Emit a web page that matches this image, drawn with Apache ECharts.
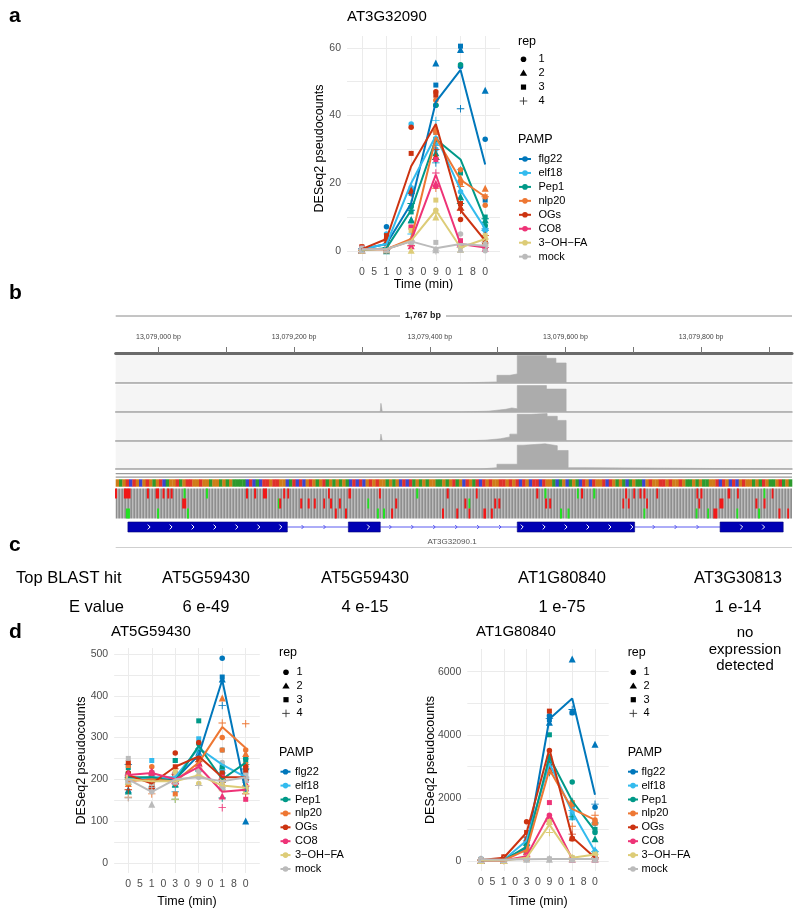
<!DOCTYPE html>
<html><head><meta charset="utf-8">
<script src="https://cdn.jsdelivr.net/npm/echarts@6/dist/echarts.min.js"></script>
<style>html,body{margin:0;padding:0;background:#fff}#c{width:800px;height:913px}</style>
</head><body><div id="c"></div><script>
const FONT = 'Liberation Sans, Arial, Helvetica, sans-serif';

// ---------- shared categories ----------
const pamps = ['flg22','elf18','Pep1','nlp20','OGs','CO8','3−OH−FA','mock'];
const pampColors = ['#0077BB','#33BBEE','#009988','#EE7733','#CC3311','#EE3377','#DDCC77','#BBBBBB'];
const repLabels = ['1','2','3','4'];
const times = ['0','5','10','30','90','180'];
const timeTickChars = ['0','5','1','0','3','0','9','0','1','8','0'];

// ---------- panel a : AT3G32090 ----------
const aYTicks = [0,20,40,60];
const aYGrid = [0,10,20,30,40,50,60];
const aMean = [
  [0.5,2,14,44,53.5,25.5],
  [0.5,2,20,34,18,6.5],
  [0.2,0.8,12,33,27,9],
  [0.5,0.5,3.5,33.5,21,16],
  [0.5,3.5,25,37.5,12,3],
  [0.5,0.5,3,22.5,2,1],
  [0.3,0.5,3,12,1,3.5],
  [0.5,0.5,2.8,0.8,2,1.5]
];
const a_flg22 = [[0.5,0.2,1.0,0.3],[7.1,1.0,1.5,0.8],[17.5,9.2,17,12],[43,55.5,49,26],[54.5,59.5,60.5,42],[33,47.5,15,6.5]];
const a_elf18 = [[0.8,0.5,0.3,0.6],[5,1,1.5,0.5],[37.5,19,18.5,5],[30,32,35,38.5],[17.5,16,14,24],[6,7,6.5,6]];
const a_pep1  = [[0.2,0.1,0,0.5],[0.5,0,1.5,1],[13,9.2,11.5,14],[43,29,33,27],[55,16,23,14],[7.5,9.2,10,9.5]];
const a_nlp20 = [[1.2,0.5,0.3,0.2],[0.2,0.5,0.8,0.5],[2.5,3.5,7,1.5],[44.5,36,35,18.5],[24,21.5,20,19],[13.5,18.5,16,16]];
const a_ogs   = [[0.5,0.3,1.2,0.2],[3.5,3,4.5,3],[36.5,18,28.8,17],[47,28,46,30],[9.3,13,14,12],[2.5,3,1.5,4.5]];
const a_co8   = [[0.5,0.2,0.8,0.5],[0.5,0.3,0.8,0.4],[3,1.5,7,1.5],[19,20,27,23],[1.5,2,3,1.5],[1,0.8,1.2,1]];
const a_ohfa  = [[0.3,0.2,0.5,0.2],[0.5,0.3,0.8,0.4],[3,0.2,6,2.8],[12,10,15,11],[1,0.5,1.5,1],[3.5,2.5,4.5,3.5]];
const a_mock  = [[0.5,0.3,0.8,0.4],[0.4,0.5,0.7,0.4],[2.8,3,2.5,3],[0.5,0.3,2.5,0],[5,0.5,1.5,1],[0,2,1.5,2.5]];

// ---------- panel d left : AT5G59430 ----------
const dlYTicks = [0,100,200,300,400,500];
const dlYGrid = [0,50,100,150,200,250,300,350,400,450,500];
const dlMean = [
  [205,200,200,258,438,170],
  [200,205,205,275,235,205],
  [205,205,195,280,200,240],
  [195,200,195,240,325,275],
  [210,190,230,255,205,205],
  [210,215,200,230,170,175],
  [200,195,195,210,185,180],
  [200,170,200,205,195,205]
];
const dl_flg22 = [[210,175,200,235],[195,210,200,195],[200,195,210,195],[250,265,270,248],[490,440,445,377],[180,100,175,225]];
const dl_elf18 = [[200,195,205,200],[210,190,245,175],[215,190,245,170],[270,260,297,273],[270,230,225,215],[205,200,215,200]];
const dl_pep1  = [[215,172,228,205],[205,200,215,200],[195,188,245,152],[285,275,340,220],[215,200,230,155],[250,230,245,235]];
const dl_nlp20 = [[200,190,233,157],[230,220,185,165],[190,200,165,225],[245,240,250,225],[300,395,270,335],[270,262,235,333]];
const dl_ogs   = [[215,210,240,175],[190,185,180,205],[263,215,230,212],[288,240,250,242],[205,200,215,200],[230,205,220,165]];
const dl_co8   = [[210,215,205,210],[215,220,215,210],[215,195,200,190],[235,230,225,230],[185,160,205,132],[185,180,152,183]];
const dl_ohfa  = [[200,195,205,200],[195,200,190,195],[200,210,218,152],[190,215,225,210],[185,180,195,180],[180,185,170,185]];
const dl_mock  = [[195,200,250,155],[170,140,190,180],[205,195,200,200],[205,210,220,185],[240,185,180,175],[205,200,210,205]];

// ---------- panel d right : AT1G80840 ----------
const drYTicks = [0,2000,4000,6000];
const drYGrid = [0,1000,2000,3000,4000,5000,6000];
const drMean = [
  [30,40,400,4500,5150,2100],
  [20,30,650,3100,1550,300],
  [20,20,450,3300,1900,950],
  [20,20,350,2900,1650,1300],
  [30,100,900,3550,750,100],
  [20,10,150,1500,60,60],
  [20,10,100,1150,100,200],
  [50,40,50,60,60,60]
];
const dr_flg22 = [[60,20,20,20],[50,30,40,40],[500,300,450,350],[4600,4400,4480,4520],[4700,6400,4700,4800],[1700,3700,1200,1800]];
const dr_elf18 = [[20,25,15,20],[30,35,25,30],[700,600,650,650],[3100,3000,3200,3100],[1700,1400,1500,1600],[300,350,250,300]];
const dr_pep1  = [[20,15,25,20],[20,25,15,20],[500,350,450,500],[3300,3100,4000,2800],[2500,1900,1800,1400],[900,700,1000,1200]];
const dr_nlp20 = [[20,25,15,20],[20,15,25,20],[400,300,350,350],[2950,2850,2900,2900],[1800,1850,1850,1100],[1300,1250,1200,1450]];
const dr_ogs   = [[30,35,25,30],[100,80,130,90],[1240,700,900,760],[3500,2900,4750,3050],[700,750,700,850],[100,90,110,100]];
const dr_co8   = [[20,25,15,20],[10,15,5,10],[150,120,180,150],[1450,1350,1850,1350],[60,50,70,60],[60,50,70,60]];
const dr_ohfa  = [[20,15,25,20],[10,15,5,10],[100,90,110,100],[1200,1250,1250,900],[100,90,110,100],[200,180,220,200]];
const dr_mock  = [[50,45,55,50],[40,45,35,40],[50,55,45,50],[60,55,65,60],[60,55,65,60],[60,55,65,60]];

// ---------- panel b : genome browser (positions = bp offset from 13,079,000) ----------
const chromAnchor = 13079000;
const bpView = [-63, 934];
const rulerLabelBp = [0,200,400,600,800];
const rulerTickBp = [0,100,200,300,400,500,600,700,800,900];
const spanLabel = '1,767 bp';
const cov1 = [[-63,0],[448,4],[499,28],[518,33],[529,100],[572,90],[586,73],[601,0],[934,0]];
const cov2 = [[-63,0],[327,0],[328,32],[330,0],[445,3],[486,10],[512,15],[521,12],[529,98],[572,85],[601,0],[934,0]];
const cov3 = [[-63,0],[327,0],[328,25],[330,0],[446,3],[481,8],[504,15],[518,25],[529,97],[549,100],[573,90],[588,75],[601,0],[934,0]];
const cov4 = [[-63,0],[476,5],[499,18],[529,90],[538,95],[570,88],[588,70],[604,5],[629,0],[934,0]];
const seqBases = 'GAGTCTGCGTGAGTCAGGTAGTTGGTGGAGGAGAGAAAACTCACTTGTTGGCATCTCGTGAGTAGAGAGACTCTCGTGTGGAGAGCTCTAGAGAGGAAGAGTAGCTGATCTGTGGTTGTGTCTGCTTCTGGACAGCAGACTGCTGGTCTGAGACAGAACGTGGTTGTGGTGAAGAGAAGGTCTGCTCGTGGAGATGAAGTAGA';
// mismatch marks: [startBp, endBp, 0=red / 1=green]
const mism1 = [[-64,-61,0],[-51,-41,0],[-17,-14,0],[-4,1,0],[6,9,0],[13,16,0],[18,21,0],[37,40,1],[70,73,1],[129,132,0],[141,144,0],[154,160,0],[184,187,0],[190,192,0],[250,252,0],[280,284,0],[325,328,0],[380,383,1],[425,428,0],[468,470,0],[557,560,0],[569,572,1],[617,619,1],[623,626,0],[641,644,1],[688,691,0],[700,702,0],[709,712,0],[715,718,0],[734,736,0],[793,795,0],[799,802,0],[839,843,0],[853,855,0],[892,894,1],[904,906,0]];
const mism2 = [[35,41,0],[176,178,1],[178,181,0],[209,212,0],[220,223,0],[229,232,0],[243,245,0],[253,256,0],[266,269,0],[308,310,1],[349,352,0],[451,454,0],[457,459,1],[495,498,0],[501,504,0],[570,573,0],[576,579,0],[684,686,0],[692,694,0],[719,721,0],[796,798,0],[827,833,0],[880,883,0],[892,895,0]];
const mism3 = [[-48,-42,1],[-2,1,1],[42,45,1],[260,263,0],[275,278,0],[322,325,1],[331,334,1],[343,346,0],[418,421,0],[439,442,0],[457,459,0],[479,483,0],[490,493,0],[592,595,1],[603,606,1],[715,717,1],[792,794,1],[809,811,1],[818,824,0],[852,854,1],[884,887,1],[914,917,0],[927,929,0]];
const exons = [[-45,190],[280,327],[529,702],[828,921]];
const geneName = 'AT3G32090.1';

// ---------- panel c ----------
const blastHits = ['AT5G59430','AT5G59430','AT1G80840','AT3G30813'];
const eValues = ['6 e-49','4 e-15','1 e-75','1 e-14'];

// ===================================================================
const grids = [], xAxes = [], yAxes = [], series = [], g = [];
const shapes = ['circle','triangle','rect','path://M4.4,0H5.6V4.4H10V5.6H5.6V10H4.4V5.6H0V4.4H4.4Z'];
const shapeSizes = [5.5, 7, 5, 7.5];

function addPlot(box, yMin, yMax, yTicks, yGrid, yGap, xGap, means, repSets) {
  const idx = grids.length;
  grids.push({left: box[0], top: box[1], width: box[2], height: box[3]});
  xAxes.push({gridIndex: idx, type: 'value', min: -0.6, max: 5.6,
    axisLine: {show: false}, axisTick: {show: false, customValues: times.map((t, i) => i)},
    splitLine: {show: true, lineStyle: {color: '#ebebeb', width: 1}},
    axisLabel: {customValues: timeTickChars.map((c, i) => i / 2), formatter: v => timeTickChars[Math.round(v * 2)],
      color: '#4d4d4d', fontSize: 10.5, margin: 6, fontFamily: FONT},
    name: 'Time (min)', nameLocation: 'middle', nameGap: xGap, nameMoveOverlap: false,
    nameTextStyle: {color: '#000', fontSize: 12.5, fontFamily: FONT}});
  yAxes.push({gridIndex: idx, type: 'value', min: yMin, max: yMax,
    axisLine: {show: false}, axisTick: {show: false, customValues: yGrid},
    splitLine: {show: true, lineStyle: {color: '#ebebeb', width: 1}},
    axisLabel: {customValues: yTicks, formatter: v => String(v), color: '#4d4d4d', fontSize: 10.5, margin: 6, fontFamily: FONT},
    name: 'DESeq2 pseudocounts', nameLocation: 'middle', nameGap: yGap, nameRotate: 90, nameMoveOverlap: false,
    nameTextStyle: {color: '#000', fontSize: 12.5, fontFamily: FONT}});
  pamps.forEach((p, k) => {
    const data = [];
    repSets[k].forEach((vals, t) => vals.forEach((v, r) => data.push([t, v, r])));
    series.push({type: 'scatter', xAxisIndex: idx, yAxisIndex: idx, data: data,
      symbol: val => shapes[val[2]], symbolSize: val => shapeSizes[val[2]],
      itemStyle: {color: pampColors[k], opacity: 1}, z: 2, silent: true});
  });
  pamps.forEach((p, k) => {
    series.push({type: 'line', xAxisIndex: idx, yAxisIndex: idx, data: means[k].map((v, t) => [t, v]),
      showSymbol: false, symbol: 'none', lineStyle: {color: pampColors[k], width: 2}, z: 3, silent: true});
  });
}

addPlot([347, 36, 153, 225], -3, 63.5, aYTicks, aYGrid, 21, 17.5, aMean,
  [a_flg22, a_elf18, a_pep1, a_nlp20, a_ogs, a_co8, a_ohfa, a_mock]);
addPlot([114.2, 648, 145.6, 225], -24.5, 514.5, dlYTicks, dlYGrid, 26, 22.5, dlMean,
  [dl_flg22, dl_elf18, dl_pep1, dl_nlp20, dl_ogs, dl_co8, dl_ohfa, dl_mock]);
addPlot([467.3, 649, 141.4, 222], -320, 6720, drYTicks, drYGrid, 30, 24.5, drMean,
  [dr_flg22, dr_elf18, dr_pep1, dr_nlp20, dr_ogs, dr_co8, dr_ohfa, dr_mock]);

// ---------- panel b grids ----------
const bLeft = 115.7, bWidth = 676.3;
function bGrid(top, height, xExtra, yExtra, gridExtra) {
  const idx = grids.length;
  grids.push(Object.assign({left: bLeft, width: bWidth, top: top, height: height}, gridExtra || {}));
  xAxes.push(Object.assign({gridIndex: idx, type: 'value', min: bpView[0], max: bpView[1],
    axisLine: {show: false}, axisTick: {show: false}, axisLabel: {show: false}, splitLine: {show: false}}, xExtra || {}));
  yAxes.push(Object.assign({gridIndex: idx, type: 'value', min: 0, max: 100, show: false, splitLine: {show: false}}, yExtra || {}));
  return idx;
}
const rulerIdx = bGrid(345, 8, {position: 'top',
  axisLine: {show: true, lineStyle: {color: '#8a8a8a', width: 1}},
  axisTick: {show: true, inside: false, length: 6, customValues: rulerTickBp, lineStyle: {color: '#777'}},
  axisLabel: {show: true, customValues: rulerLabelBp, margin: 4, fontSize: 7, color: '#444', fontFamily: FONT,
    formatter: v => (chromAnchor + v).toLocaleString('en-US') + ' bp'}});
xAxes.push({gridIndex: rulerIdx, type: 'value', min: bpView[0], max: bpView[1], position: 'bottom',
  axisLine: {show: true, lineStyle: {color: '#6a6a6a', width: 3}}, axisTick: {show: false}, axisLabel: {show: false}, splitLine: {show: false}});

function axisIdxOf(gridIdx) { return xAxes.findIndex(a => a.gridIndex === gridIdx); }
const covTracks = [cov1, cov2, cov3, cov4];
const trackBoxes = [[355, 28], [384.5, 27.5], [413, 28], [442, 27]];
covTracks.forEach((cov, i) => {
  const idx = bGrid(trackBoxes[i][0], trackBoxes[i][1],
    {axisLine: {show: true, lineStyle: {color: '#a8a8a8', width: 1.5}}},
    {max: 102},
    {show: true, backgroundColor: '#f5f5f5', borderWidth: 0});
  series.push({type: 'line', xAxisIndex: axisIdxOf(idx), yAxisIndex: idx, data: cov, step: 'end',
    showSymbol: false, symbol: 'none', lineStyle: {width: 0.6, color: '#a9a9a9'},
    areaStyle: {color: '#acacac', opacity: 1}, silent: true});
});

const baseColors = {A: '#2c9a2c', C: '#3a45d0', G: '#cf7c18', T: '#e0302a'};
const seqIdx = bGrid(479.3, 7.4, {}, {min: 0, max: 1});
const seqStep = (bpView[1] - bpView[0]) / seqBases.length;
series.push({type: 'custom', xAxisIndex: axisIdxOf(seqIdx), yAxisIndex: seqIdx, silent: true,
  data: seqBases.split('').map((b, i) => [bpView[0] + i * seqStep, bpView[0] + (i + 1) * seqStep, 'ACGT'.indexOf(b)]),
  renderItem: (params, api) => {
    const p0 = api.coord([api.value(0), 1]), p1 = api.coord([api.value(1), 0]);
    return {type: 'rect', shape: {x: p0[0], y: p0[1], width: p1[0] - p0[0] + 0.3, height: p1[1] - p0[1]},
      style: {fill: baseColors['ACGT'[api.value(2)]]}};
  }});

const varIdx = bGrid(488.5, 30, {}, {min: 0, max: 3, inverse: true});
const mismData = [];
[mism1, mism2, mism3].forEach((row, r) => row.forEach(m => mismData.push([m[0], m[1], r, m[2]])));
series.push({type: 'custom', xAxisIndex: axisIdxOf(varIdx), yAxisIndex: varIdx, silent: true, z: 5,
  data: mismData,
  renderItem: (params, api) => {
    const p0 = api.coord([api.value(0), api.value(2)]), p1 = api.coord([api.value(1), api.value(2) + 1]);
    return {type: 'rect', shape: {x: p0[0], y: p0[1], width: Math.max(p1[0] - p0[0], 1.8), height: p1[1] - p0[1]},
      style: {fill: api.value(3) === 1 ? '#22e022' : '#f01818'}};
  }});

const geneIdx = bGrid(522, 10, {}, {min: 0, max: 1});
const arrowPhase = -14, arrowStep = 32.35;
const introns = exons.slice(1).map((e, i) => [exons[i][1], e[0]]);
series.push({type: 'custom', xAxisIndex: axisIdxOf(geneIdx), yAxisIndex: geneIdx, silent: true,
  data: introns,
  renderItem: (params, api) => {
    const s = api.value(0), e = api.value(1);
    const a = api.coord([s, 0.5]), b = api.coord([e, 0.5]);
    const ch = [{type: 'line', shape: {x1: a[0], y1: a[1], x2: b[0], y2: b[1]}, style: {stroke: '#5a5af0', lineWidth: 1}}];
    for (let p = arrowPhase + Math.ceil((s - arrowPhase) / arrowStep) * arrowStep; p < e - 4; p += arrowStep) {
      const c = api.coord([p, 0.5]);
      ch.push({type: 'polyline', shape: {points: [[c[0] - 1, c[1] - 2], [c[0] + 1, c[1]], [c[0] - 1, c[1] + 2]]},
        style: {stroke: '#4646ee', lineWidth: 0.9, fill: null}});
    }
    return {type: 'group', children: ch};
  }});
series.push({type: 'custom', xAxisIndex: axisIdxOf(geneIdx), yAxisIndex: geneIdx, silent: true, z: 4,
  data: exons,
  renderItem: (params, api) => {
    const s = api.value(0), e = api.value(1);
    const p0 = api.coord([s, 1]), p1 = api.coord([e, 0]);
    const ch = [{type: 'rect', shape: {x: p0[0], y: p0[1], width: p1[0] - p0[0], height: p1[1] - p0[1]},
      style: {fill: '#0000b4', stroke: '#00007a', lineWidth: 0.6}}];
    for (let p = arrowPhase + Math.ceil((s - arrowPhase) / arrowStep) * arrowStep; p < e - 4; p += arrowStep) {
      const c = api.coord([p, 0.5]);
      ch.push({type: 'polyline', shape: {points: [[c[0] - 1.2, c[1] - 2.4], [c[0] + 1.2, c[1]], [c[0] - 1.2, c[1] + 2.4]]},
        style: {stroke: '#ffffff', lineWidth: 1, fill: null}});
    }
    return {type: 'group', children: ch};
  }});

function txt(s, x, y, size, opts) {
  opts = opts || {};
  const align = opts.align || 'left';
  return {type: 'text', x: x, y: y, silent: true, z: 10, style: {text: s, fill: opts.color || '#000',
    font: (opts.weight || 'normal') + ' ' + size + 'px ' + (opts.family || FONT),
    align: align, verticalAlign: 'middle', textAlign: align, textVerticalAlign: 'middle'}};
}
g.push(txt('a', 9, 16, 21, {weight: 'bold'}));
g.push(txt('b', 9, 293, 21, {weight: 'bold'}));
g.push(txt('c', 9, 545, 21, {weight: 'bold'}));
g.push(txt('d', 9, 632, 21, {weight: 'bold'}));
g.push(txt('AT3G32090', 347, 17, 15));
g.push(txt('AT5G59430', 111, 632, 15));
g.push(txt('AT1G80840', 476, 632, 15));

function repSymbol(r, x, y) {
  if (r === 0) return {type: 'circle', shape: {cx: x, cy: y, r: 2.8}, style: {fill: '#000'}};
  if (r === 1) return {type: 'polygon', shape: {points: [[x, y - 3.6], [x + 3.7, y + 2.6], [x - 3.7, y + 2.6]]}, style: {fill: '#000'}};
  if (r === 2) return {type: 'rect', shape: {x: x - 2.6, y: y - 2.6, width: 5.2, height: 5.2}, style: {fill: '#000'}};
  return {type: 'group', children: [
    {type: 'line', shape: {x1: x - 3.8, y1: y, x2: x + 3.8, y2: y}, style: {stroke: '#333', lineWidth: 0.9}},
    {type: 'line', shape: {x1: x, y1: y - 3.8, x2: x, y2: y + 3.8}, style: {stroke: '#333', lineWidth: 0.9}}]};
}
function legend(L) {
  g.push(txt('rep', L.tx, L.repTitleY, 12.5));
  repLabels.forEach((r, i) => {
    const y = L.repY0 + i * L.repStep;
    const s = repSymbol(i, L.repSymX, y); s.silent = true; g.push(s);
    g.push(txt(r, L.repLabX, y, 11));
  });
  g.push(txt('PAMP', L.tx, L.pampTitleY, 12.5));
  pamps.forEach((p, k) => {
    const y = L.pampY0 + k * L.pampStep;
    g.push({type: 'line', silent: true, shape: {x1: L.pampSymX - L.half, y1: y, x2: L.pampSymX + L.half, y2: y}, style: {stroke: pampColors[k], lineWidth: 2}});
    g.push({type: 'circle', silent: true, shape: {cx: L.pampSymX, cy: y, r: 2.8}, style: {fill: pampColors[k]}});
    g.push(txt(p, L.pampLabX, y, 11));
  });
}
legend({tx: 518, repTitleY: 42, repSymX: 523.5, repLabX: 538.5, repY0: 59.3, repStep: 13.9,
  pampTitleY: 140, pampSymX: 525, half: 6, pampLabX: 538.5, pampY0: 159, pampStep: 13.95});
legend({tx: 279, repTitleY: 653, repSymX: 286, repLabX: 296.5, repY0: 672.3, repStep: 13.7,
  pampTitleY: 753, pampSymX: 285.5, half: 5, pampLabX: 295, pampY0: 771.7, pampStep: 13.9});
legend({tx: 627.7, repTitleY: 653, repSymX: 633.3, repLabX: 643.5, repY0: 672.3, repStep: 13.7,
  pampTitleY: 753, pampSymX: 633, half: 5, pampLabX: 641.5, pampY0: 771.7, pampStep: 13.9});

g.push({type: 'line', silent: true, shape: {x1: bLeft, y1: 316, x2: 400, y2: 316}, style: {stroke: '#8a8a8a', lineWidth: 1}});
g.push({type: 'line', silent: true, shape: {x1: 446, y1: 316, x2: bLeft + bWidth, y2: 316}, style: {stroke: '#8a8a8a', lineWidth: 1}});
g.push(txt(spanLabel, 423, 316, 9, {align: 'center', weight: 'bold', color: '#222'}));
g.push({type: 'line', silent: true, shape: {x1: bLeft, y1: 473.6, x2: bLeft + bWidth, y2: 473.6}, style: {stroke: '#9a9a9a', lineWidth: 1.2}});
g.push({type: 'line', silent: true, shape: {x1: bLeft, y1: 477.2, x2: bLeft + bWidth, y2: 477.2}, style: {stroke: '#9a9a9a', lineWidth: 1.2}});
const pat = document.createElement('canvas'); pat.width = 3; pat.height = 1;
(function () { const cx = pat.getContext('2d');
  cx.fillStyle = '#bcbcbc'; cx.fillRect(0, 0, 1, 1);
  cx.fillStyle = '#a2a2a2'; cx.fillRect(1, 0, 1, 1);
  cx.fillStyle = '#8e8e8e'; cx.fillRect(2, 0, 1, 1); })();
g.push({type: 'rect', silent: true, z: 0, shape: {x: bLeft, y: 488.5, width: bWidth, height: 30}, style: {fill: {image: pat, repeat: 'repeat'}}});
g.push(txt(geneName, 452, 542, 8, {align: 'center', color: '#555'}));
g.push({type: 'line', silent: true, shape: {x1: bLeft, y1: 547.5, x2: bLeft + bWidth, y2: 547.5}, style: {stroke: '#cfcfcf', lineWidth: 1}});

const cFont = 16.5;
g.push(txt('Top BLAST hit', 16, 578, cFont));
g.push(txt('E value', 124, 607, cFont, {align: 'right'}));
const cCols = [206, 365, 562, 738];
blastHits.forEach((h, i) => g.push(txt(h, cCols[i], 578, cFont, {align: 'center'})));
eValues.forEach((e, i) => g.push(txt(e, cCols[i], 607, cFont, {align: 'center'})));

g.push(txt('no', 745, 633, 15, {align: 'center'}));
g.push(txt('expression', 745, 649.5, 15, {align: 'center'}));
g.push(txt('detected', 745, 666, 15, {align: 'center'}));

const chart = echarts.init(document.getElementById('c'), null, {renderer: 'canvas', width: 800, height: 913});
chart.setOption({
  animation: false,
  backgroundColor: '#ffffff',
  textStyle: {fontFamily: FONT},
  grid: grids, xAxis: xAxes, yAxis: yAxes, series: series, graphic: {elements: g}
});
</script></body></html>
